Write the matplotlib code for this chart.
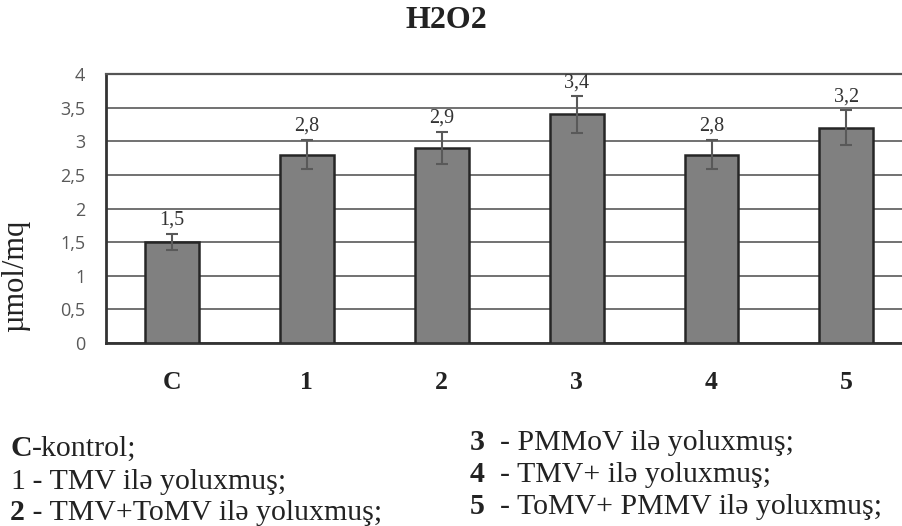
import matplotlib.pyplot as plt

categories = ["C", "1", "2", "3", "4", "5"]
values = [1.5, 2.8, 2.9, 3.4, 2.8, 3.2]
errors = [0.12, 0.22, 0.24, 0.27, 0.22, 0.26]
value_labels = ["1,5", "2,8", "2,9", "3,4", "2,8", "3,2"]
yticks = [0, 0.5, 1, 1.5, 2, 2.5, 3, 3.5, 4]
ytick_labels = ["0", "0,5", "1", "1,5", "2", "2,5", "3", "3,5", "4"]

# notes under the chart: (number, rest of line, number in bold?)
notes_left = [("C", "-kontrol;", True),
              ("1", " - TMV ilə yoluxmuş;", False),
              ("2", " - TMV+ToMV ilə yoluxmuş;", True)]
notes_right = [("3", "  - PMMoV ilə yoluxmuş;", True),
               ("4", "  - TMV+ ilə yoluxmuş;", True),
               ("5", "  - ToMV+ PMMV ilə yoluxmuş;", True)]

W, H = 903, 526
serif = "Liberation Serif"
dark = "#222222"

fig = plt.figure(figsize=(W / 100, H / 100), dpi=100)
ax = fig.add_axes([106 / W, 1 - 343 / H, (W - 106) / W, 269 / H])

x = list(range(len(categories)))
ax.bar(x, values, width=0.4, color="#808080", edgecolor="#262626", linewidth=1.8, zorder=3)
ax.errorbar(x, values, yerr=errors, fmt="none", ecolor="#595959", elinewidth=1.5,
            capsize=4, capthick=1.5, zorder=4)

for xi, v, e, lab in zip(x, values, errors, value_labels):
    ax.text(xi, v + e + 0.06, lab, ha="center", va="bottom", fontsize=14.5,
            family=serif, color="#333333")

ax.set_xlim(-0.49, 5.42)
ax.set_ylim(0, 4)
ax.set_yticks(yticks)
ax.set_yticklabels(ytick_labels, fontsize=13, family="Open Sans", color="#595959")
ax.set_xticks(x)
ax.set_xticklabels(categories, fontsize=18.5, family=serif, fontweight="bold", color=dark)
ax.tick_params(axis="both", length=0)
ax.tick_params(axis="x", pad=20)
ax.tick_params(axis="y", pad=15)

ax.yaxis.grid(True, color="#595959", linewidth=1.2, zorder=0)
ax.set_axisbelow(True)
ax.spines["right"].set_visible(False)
ax.spines["top"].set_color("#555555")
ax.spines["top"].set_linewidth(1.6)
for side in ["left", "bottom"]:
    ax.spines[side].set_color("#333333")
    ax.spines[side].set_linewidth(2)

ax.set_ylabel("µmol/mq", fontsize=22, family=serif, color=dark)
ax.yaxis.set_label_coords((30 - 106) / (W - 106), (343 - 276) / 269)

fig.text(446 / W, 1 - 21 / H, "H2O2", ha="center", va="center", fontsize=23,
         family=serif, fontweight="bold", color=dark)

fig.canvas.draw()

def note_line(xpx, base_px, num, rest, num_bold):
    t = fig.text(xpx / W, 1 - base_px / H, num, fontsize=21.5, family=serif,
                 fontweight="bold" if num_bold else "normal", color=dark, va="baseline")
    bb = t.get_window_extent(renderer=fig.canvas.get_renderer())
    fig.text(bb.x1 / W, 1 - base_px / H, rest, fontsize=21.5, family=serif,
             color=dark, va="baseline")

for (num, rest, b), base in zip(notes_left, [456, 489, 520]):
    note_line(10, base, num, rest, b)
for (num, rest, b), base in zip(notes_right, [450, 482, 514]):
    note_line(470, base, num, rest, b)

fig.savefig("out.png", dpi=100)
